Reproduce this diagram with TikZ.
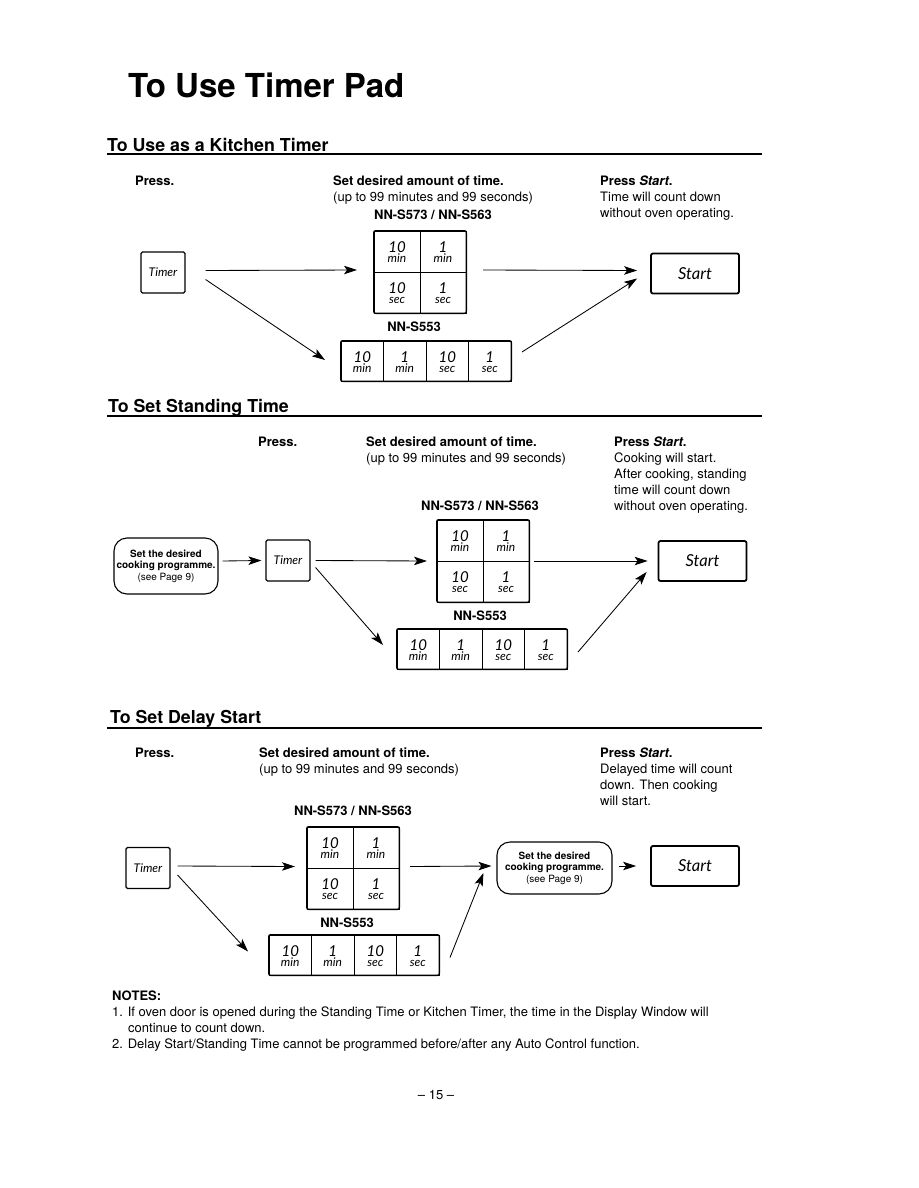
\documentclass[tikz,border=0pt]{standalone}
\usepackage{fontspec}
\setmainfont{TeX Gyre Heros}
\newfontfamily\keyfont{Lato}
\usetikzlibrary{arrows.meta,fit,calc}
% one key: name, x, y, width, height, number, unit
\newcommand\kcell[7]{%
  \node[key,minimum width=#4,minimum height=#5] (#1) at (#2,#3) {};
  \node[knum] (#1n) at ($(#1.center)+(0,1)$) {#6};
  \node[kunit] (#1u) at ($(#1.center)+(0,11)$) {#7};}
\newcommand\mkpad[3]{%
  \kcell{#1a}{#2+23}{#3+20.5}{46pt}{41pt}{10}{min}
  \kcell{#1b}{#2+69}{#3+20.5}{46pt}{41pt}{1}{min}
  \kcell{#1c}{#2+23}{#3+61.5}{46pt}{41pt}{10}{sec}
  \kcell{#1d}{#2+69}{#3+61.5}{46pt}{41pt}{1}{sec}
  \node[pad,fit=(#1a)(#1d)] (#1) {};}
\newcommand\mkrow[3]{%
  \kcell{#1a}{#2+21.25}{#3+20}{42.5pt}{40pt}{10}{min}
  \kcell{#1b}{#2+63.75}{#3+20}{42.5pt}{40pt}{1}{min}
  \kcell{#1c}{#2+106.25}{#3+20}{42.5pt}{40pt}{10}{sec}
  \kcell{#1d}{#2+148.75}{#3+20}{42.5pt}{40pt}{1}{sec}
  \node[pad,fit=(#1a)(#1d)] (#1) {};}
\begin{document}
\begin{tikzpicture}[x=1pt,y=-1pt,
 arr/.style={line width=0.85pt,-{Stealth[length=13pt,width=8.5pt,inset=3pt]}},
 key/.style={draw,line width=0.7pt,inner sep=0pt},
 knum/.style={anchor=base,inner sep=0pt,text height=10.5pt,text depth=0pt,font=\keyfont\itshape\fontsize{15}{15}\selectfont},
 kunit/.style={anchor=base,inner sep=0pt,text height=6pt,text depth=0pt,font=\keyfont\itshape\fontsize{12}{12}\selectfont},
 pad/.style={draw,line width=1.3pt,rounded corners=2pt,inner sep=0pt},
 timerbox/.style={draw,line width=1.1pt,rounded corners=1.5pt,minimum width=44pt,minimum height=41pt,inner sep=0pt,font=\keyfont\itshape\fontsize{12}{12}\selectfont},
 startbox/.style={draw,line width=1.8pt,rounded corners=2pt,minimum width=88pt,minimum height=40pt,inner sep=0pt,font=\keyfont\itshape\fontsize{16.5}{17}\selectfont},
 progbox/.style={draw,line width=1.1pt,rounded corners=13pt,minimum width=104pt,minimum height=56pt,inner sep=0pt,align=center,font=\bfseries\fontsize{10}{11.5}\selectfont},
 txt/.style={anchor=base west,inner sep=0pt,font=\fontsize{13}{16.2}\selectfont},
 btxt/.style={txt,font=\bfseries\fontsize{13}{16.2}\selectfont},
 head/.style={anchor=base west,inner sep=0pt,font=\bfseries\fontsize{17.8}{20}\selectfont},
 rule/.style={line width=1.5pt}
]
\fill[white] (0,0) rectangle (918,1188);
\useasboundingbox (0,0) rectangle (918,1188);

\node[anchor=base west,inner sep=0pt,font=\bfseries\fontsize{33}{34}\selectfont] (title) at (128,98) {To Use Timer Pad};

% ---------- Section 1
\node[head] (h1) at (107,151) {To Use as a Kitchen Timer};
\draw[rule] (107,154) -- (762,154);
\node[btxt] (p1) at (135,185) {Press.};
\node[txt] (s1) at (333,185) {\begin{tabular}[t]{@{}l@{}}\bfseries Set desired amount of time.\\ (up to 99 minutes and 99 seconds)\end{tabular}};
\node[btxt,anchor=base] (m1) at (433,219) {NN-S573 / NN-S563};
\node[txt] (r1) at (600,185) {\begin{tabular}[t]{@{}l@{}}\bfseries Press \textit{Start}.\\ Time will count down\\ without oven operating.\end{tabular}};
\node[timerbox] (t1) at (163,272.5) {Timer};
\mkpad{kp1}{374}{231}
\node[btxt,anchor=base] (n1) at (414,331) {NN-S553};
\mkrow{row1}{341}{341}
\node[startbox] (st1) at (695,273.5) {Start};
\draw[arr] ($(t1.east)+(20,-2)$) -- ($(kp1.west)+(-16,-2)$);
\draw[arr] ($(t1.east)+(20,7)$) -- ($(row1.west)+(-15,-1)$);
\draw[arr] ($(kp1.east)+(16,-2)$) -- ($(st1.west)+(-13,-3)$);
\draw[arr] ($(row1.east)+(10,-9)$) -- ($(st1.west)+(-13,5)$);

% ---------- Section 2
\node[head] (h2) at (108,412) {To Set Standing Time};
\draw[rule] (107,416) -- (762,416);
\node[btxt] (p2) at (258,446) {Press.};
\node[txt] (s2) at (366,446) {\begin{tabular}[t]{@{}l@{}}\bfseries Set desired amount of time.\\ (up to 99 minutes and 99 seconds)\end{tabular}};
\node[txt] (r2) at (614,446) {\begin{tabular}[t]{@{}l@{}}\bfseries Press \textit{Start}.\\ Cooking will start.\\ After cooking, standing\\ time will count down\\ without oven operating.\end{tabular}};
\node[btxt,anchor=base] (m2) at (480,510) {NN-S573 / NN-S563};
\node[progbox] (pg2) at (166,566) {Set the desired\\ cooking programme.\\ \mdseries(see Page 9)};
\node[timerbox] (t2) at (288,560.5) {Timer};
\mkpad{kp2}{437}{520}
\node[btxt,anchor=base] (n2) at (480,620) {NN-S553};
\mkrow{row2}{397}{629}
\node[startbox] (st2) at (702.5,561) {Start};
\draw[arr] ($(pg2.east)+(4,-5)$) -- ($(t2.west)+(-4,0)$);
\draw[arr] ($(t2.east)+(5,0)$) -- ($(kp2.west)+(-9,0)$);
\draw[arr] ($(t2.east)+(5,7)$) -- ($(row2.west)+(-13,-4)$);
\draw[arr] ($(kp2.east)+(4,0)$) -- ($(st2.west)+(-10,0)$);
\draw[arr] ($(row2.east)+(10,3)$) -- ($(st2.west)+(-11,11)$);

% ---------- Section 3
\node[head] (h3) at (110,723) {To Set Delay Start};
\draw[rule] (107,728) -- (762,728);
\node[btxt] (p3) at (135,757) {Press.};
\node[txt] (s3) at (259,757) {\begin{tabular}[t]{@{}l@{}}\bfseries Set desired amount of time.\\ (up to 99 minutes and 99 seconds)\end{tabular}};
\node[btxt,anchor=base] (m3) at (353,815) {NN-S573 / NN-S563};
\node[txt] (r3) at (600,757) {\begin{tabular}[t]{@{}l@{}}\bfseries Press \textit{Start}.\\ Delayed time will count\\ down. Then cooking\\ will start.\end{tabular}};
\node[timerbox] (t3) at (148,868) {Timer};
\mkpad{kp3}{307}{827}
\node[btxt,anchor=base] (n3) at (347,927) {NN-S553};
\mkrow{row3}{269}{935}
\node[progbox,minimum width=115pt,minimum height=52pt] (pg3) at (554.5,868) {Set the desired\\ cooking programme.\\ \mdseries(see Page 9)};
\node[startbox] (st3) at (695,866) {Start};
\draw[arr] ($(t3.east)+(7,-2)$) -- ($(kp3.west)+(-11,-1.5)$);
\draw[arr] ($(t3.east)+(7,7)$) -- ($(row3.west)+(-20,-3.5)$);
\draw[arr] ($(kp3.east)+(10,-1.5)$) -- ($(pg3.west)+(-5,-2)$);
\draw[arr] ($(row3.east)+(10,2.5)$) -- ($(pg3.west)+(-13,5)$);
\draw[arr] ($(pg3.east)+(6,-2)$) -- ($(st3.west)+(-14,0)$);

% ---------- Notes
\node[txt] (notes) at (112,1000) {\begin{tabular}[t]{@{}l@{}}\bfseries NOTES:\\ 1. If oven door is opened during the Standing Time or Kitchen Timer, the time in the Display Window will\\ \hspace*{16pt}continue to count down.\\ 2. Delay Start/Standing Time cannot be programmed before/after any Auto Control function.\end{tabular}};
\node[txt,anchor=base] (page) at (436,1099) {– 15 –};
\end{tikzpicture}
\end{document}
